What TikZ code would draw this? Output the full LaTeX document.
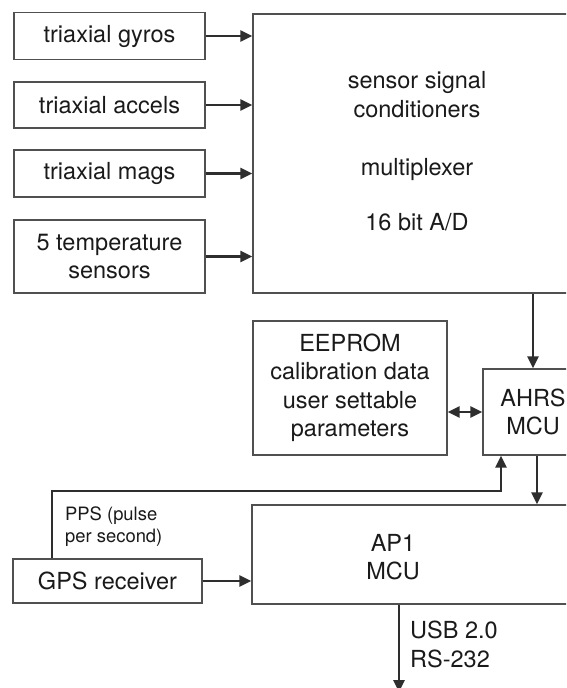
\documentclass[tikz,border=0pt]{standalone}
\usepackage{fontspec}
\setmainfont{TeX Gyre Heros}
\usetikzlibrary{arrows.meta,calc}
\definecolor{boxline}{HTML}{505050}
\definecolor{arrowc}{HTML}{2E2E2E}
\definecolor{txt}{HTML}{1A1A1A}
\begin{document}
\begin{tikzpicture}[x=1pt,y=-1pt,
  box/.style={draw=boxline, line width=1.4pt, fill=white, inner sep=0pt, text=txt,
    font=\fontsize{23.5}{28.5}\selectfont, align=center},
  lbl/.style={text=txt, inner sep=0pt, font=\fontsize{23.5}{28.5}\selectfont},
  small/.style={text=txt, inner sep=0pt, font=\fontsize{18.4}{22}\selectfont},
  conn/.style={draw=arrowc, line width=2.7pt, -{Triangle[length=12pt,width=11pt]}},
  dconn/.style={draw=arrowc, line width=2.7pt, {Triangle[length=12pt,width=11pt]}-{Triangle[length=12pt,width=11pt]}}
]
\useasboundingbox (0,0) rectangle (566,688);
\clip (0,0) rectangle (566,688);

% input sensor boxes
\node[box, minimum width=191pt, minimum height=47pt] (gyro) at (109.5,36) {triaxial gyros};
\node[box, minimum width=191pt, minimum height=46pt] (accel) at (109.5,105) {triaxial accels};
\node[box, minimum width=191pt, minimum height=47pt] (mag) at (109.5,173.5) {triaxial mags};
\node[box, minimum width=191pt, minimum height=73pt] (temp) at (109.5,256.5) {5 temperature\\sensors};

% signal conditioner block
\node[box, minimum width=367pt, minimum height=279pt] (ss) at (436.5,153.5) {};
\node[lbl, anchor=base] (ss1) at (417,88) {sensor signal};
\node[lbl, anchor=base] (ss2) at (417,117) {conditioners};
\node[lbl, anchor=base] (ss3) at (417,175) {multiplexer};
\node[lbl, anchor=base] (ss4) at (417,230) {16 bit A/D};

% EEPROM and AHRS
\node[box, minimum width=194pt, minimum height=134pt] (eeprom) at (350,388)
  {EEPROM\\calibration data\\user settable\\parameters};
\node[box, minimum width=100pt, minimum height=86pt] (ahrs) at (533,412) {AHRS\\MCU};

% GPS and AP1
\node[box, minimum width=189pt, minimum height=44pt] (gps) at (107.5,581) {GPS receiver};
\node[box, minimum width=368pt, minimum height=99pt] (ap1) at (436,554.5) {};
\node[lbl, anchor=base] (ap1a) at (393,551) {AP1};
\node[lbl, anchor=base] (ap1b) at (393,579) {MCU};

% labels
\node[small, anchor=base west] (pps1) at (65,520) {PPS (pulse};
\node[small, anchor=base west] (pps2) at (65,542) {per second)};
\node[lbl, anchor=base west] (usb1) at (410,638) {USB 2.0};
\node[lbl, anchor=base west] (usb2) at (410,667) {RS-232};

\coordinate (ppsy) at (0,491);
\coordinate (usbend) at (399,692);

% connectors
\draw[conn] (gyro.east) -- (gyro.east -| ss.west);
\draw[conn] (accel.east) -- (accel.east -| ss.west);
\draw[conn] (mag.east) -- (mag.east -| ss.west);
\draw[conn] (temp.east) -- (temp.east -| ss.west);
\draw[conn] (ahrs.north |- ss.south) -- (ahrs.north);
\draw[dconn] (eeprom.east |- ahrs.west) -- (ahrs.west);
\draw[conn] ([xshift=4pt]ahrs.south) -- ([xshift=4pt]ahrs.south |- ap1.north);
\draw[conn] (gps.east) -- (gps.east -| ap1.west);
\draw[conn] ([xshift=-55.5pt]gps.north) -- ([xshift=-55.5pt]gps.north |- ppsy) -| ([xshift=-32pt]ahrs.south);
\draw[conn] (usbend |- ap1.south) -- (usbend);
\end{tikzpicture}
\end{document}
